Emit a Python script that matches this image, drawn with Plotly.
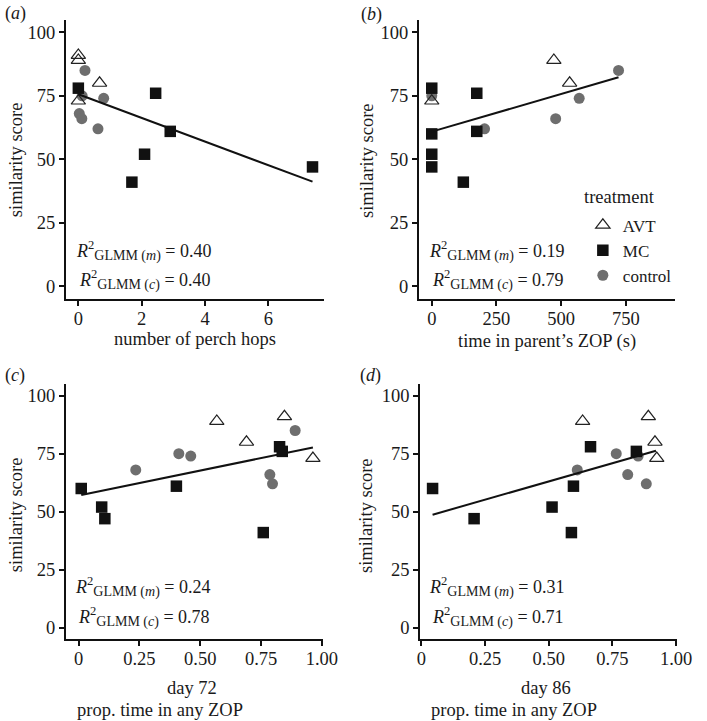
import plotly.graph_objects as go

# ---------------- data ----------------
avt_score = [91, 89, 80, 73]
hops_avt = [0, 0, 0.67, 0]
zop_avt = [None, 472, 533, 0]
day72_avt = [0.846, 0.568, 0.69, 0.963]
day86_avt = [0.891, 0.633, 0.917, 0.924]

mc_score = [78, 76, 61, 52, 47, 41, 60]
hops_mc = [0, 2.44, 2.9, 2.09, 7.39, 1.69, None]
zop_mc = [0, 174, 174, 0, 0, 122, 0]
day72_mc = [0.826, 0.837, 0.402, 0.095, 0.108, 0.759, 0.011]
day86_mc = [0.664, 0.844, 0.597, 0.513, 0.207, 0.589, 0.044]

ctrl_score = [85, 75, 74, 68, 66, 62]
hops_ctrl = [0.21, 0.12, 0.8, 0.03, 0.11, 0.62]
zop_ctrl = [722, 0, 570, None, 479, 204]
day72_ctrl = [0.89, 0.412, 0.461, 0.235, 0.786, 0.797]
day86_ctrl = [None, 0.765, 0.851, 0.612, 0.81, 0.883]

fit_hops_x = [0, 7.39]
fit_hops_y = [75.6, 41.2]
fit_zop_x = [0, 722]
fit_zop_y = [60.9, 82.3]
fit_d72_x = [0.011, 0.963]
fit_d72_y = [57.2, 77.7]
fit_d86_x = [0.044, 0.921]
fit_d86_y = [48.7, 76.3]

r2_m = ["0.40", "0.19", "0.24", "0.31"]
r2_c = ["0.40", "0.79", "0.78", "0.71"]

panel_labels = ["a", "b", "c", "d"]
y_ticks = [0, 25, 50, 75, 100]
x_ticks_hops = [0, 2, 4, 6]
x_ticks_zop = [0, 250, 500, 750]
x_ticks_prop = [0, 0.25, 0.5, 0.75, 1.0]
x_ticktext_prop = ["0", "0.25", "0.50", "0.75", "1.00"]

# ---------------- layout helpers ----------------
W, H = 707, 721
FONT = "Liberation Serif"
TXT = "#1a1a1a"


def fx(p):
    return p / W


def fy(p):
    return 1 - p / H


fig = go.Figure()

panels = [
    dict(xa="x", ya="y", avt=hops_avt, mc=hops_mc, ct=hops_ctrl, fx_=fit_hops_x, fy_=fit_hops_y),
    dict(xa="x2", ya="y2", avt=zop_avt, mc=zop_mc, ct=zop_ctrl, fx_=fit_zop_x, fy_=fit_zop_y),
    dict(xa="x3", ya="y3", avt=day72_avt, mc=day72_mc, ct=day72_ctrl, fx_=fit_d72_x, fy_=fit_d72_y),
    dict(xa="x4", ya="y4", avt=day86_avt, mc=day86_mc, ct=day86_ctrl, fx_=fit_d86_x, fy_=fit_d86_y),
]

for i, p in enumerate(panels):
    show = (i == 1)
    fig.add_trace(go.Scatter(
        x=p["ct"], y=ctrl_score, mode="markers", name="control",
        marker=dict(symbol="circle", size=11, color="#6e6e6e"),
        xaxis=p["xa"], yaxis=p["ya"], showlegend=show, legendrank=3,
        cliponaxis=False))
    fig.add_trace(go.Scatter(
        x=p["mc"], y=mc_score, mode="markers", name="MC",
        marker=dict(symbol="square", size=11.5, color="#111111"),
        xaxis=p["xa"], yaxis=p["ya"], showlegend=show, legendrank=2,
        cliponaxis=False))
    fig.add_trace(go.Scatter(
        x=p["avt"], y=avt_score, mode="markers", name="AVT",
        marker=dict(symbol="triangle-up-open", size=12.5, color="#222222",
                    line=dict(width=1.2)),
        xaxis=p["xa"], yaxis=p["ya"], showlegend=show, legendrank=1,
        cliponaxis=False))
    fig.add_trace(go.Scatter(
        x=p["fx_"], y=p["fy_"], mode="lines",
        line=dict(color="#111111", width=2),
        xaxis=p["xa"], yaxis=p["ya"], showlegend=False, hoverinfo="skip"))

axis_common = dict(
    showline=True, linecolor="#111111", linewidth=1.6,
    ticks="outside", ticklen=5, tickwidth=1.5, tickcolor="#111111",
    showgrid=False, zeroline=False,
    tickfont=dict(family=FONT, size=18.5, color=TXT),
    fixedrange=True,
)

dom_ab = [fy(299), fy(19.6)]
dom_cd = [fy(639.3), fy(384.1)]

fig.update_layout(
    width=W, height=H,
    margin=dict(l=0, r=0, t=0, b=0),
    paper_bgcolor="white", plot_bgcolor="white",
    font=dict(family=FONT, size=18, color=TXT),
    xaxis=dict(domain=[fx(64.3), fx(329.3)], range=[-0.4, 7.75],
               tickvals=x_ticks_hops, anchor="y", ticklabelstandoff=-3, **axis_common),
    yaxis=dict(domain=dom_ab, range=[-5, 105], tickvals=y_ticks, anchor="x", **axis_common),
    xaxis2=dict(domain=[fx(426.7), fx(690)], range=[-50, 942],
                tickvals=x_ticks_zop, anchor="y2", ticklabelstandoff=-3, **axis_common),
    yaxis2=dict(domain=dom_ab, range=[-5, 105], tickvals=y_ticks, anchor="x2", **axis_common),
    xaxis3=dict(domain=[fx(64.3), fx(328.5)], range=[-0.053, 1.005],
                tickvals=x_ticks_prop, ticktext=x_ticktext_prop, anchor="y3",
                ticklabelstandoff=-3, **axis_common),
    yaxis3=dict(domain=dom_cd, range=[-5, 105], tickvals=y_ticks, anchor="x3", **axis_common),
    xaxis4=dict(domain=[fx(428), fx(692)], range=[-0.005, 1.005],
                tickvals=x_ticks_prop, ticktext=x_ticktext_prop, anchor="y4",
                ticklabelstandoff=-3, **axis_common),
    yaxis4=dict(domain=dom_cd, range=[-5, 105], tickvals=y_ticks, anchor="x4", **axis_common),
    legend=dict(
        font=dict(family=FONT, size=17, color=TXT),
        x=fx(595), y=fy(207.5), xanchor="left", yanchor="top",
        bgcolor="rgba(0,0,0,0)", borderwidth=0,
        tracegroupgap=0, itemsizing="trace",
    ),
)

ann = []


def add_text(text, x, y, xanchor="center", yanchor="middle", size=18.5, angle=0):
    ann.append(dict(text=text, x=fx(x), y=fy(y), xref="paper", yref="paper",
                    xanchor=xanchor, yanchor=yanchor, showarrow=False,
                    textangle=angle, font=dict(family=FONT, size=size, color=TXT)))


# panel labels
label_pos = [(0, 14), (365, 15), (0, 375), (364, 375)]
for lab, (lx, ly) in zip(panel_labels, label_pos):
    add_text("(<i>%s</i>)" % lab, lx, ly, xanchor="left", size=18)

# legend title
add_text("treatment", 594, 197, xanchor="left", size=18.5)

# y-axis titles
for (tx, ty) in [(13.5, 160), (373.5, 160), (13.5, 515), (372.5, 516)]:
    add_text("similarity score", tx, ty, angle=-90)

# x-axis titles
add_text("number of perch hops", 196.8, 339)
add_text("time in parent\u2019s ZOP (s)", 558, 341)
add_text("day 72", 194, 688)
add_text("prop. time in any ZOP", 161.5, 710)
add_text("day 86", 557.3, 688)
add_text("prop. time in any ZOP", 524, 710)

# R^2 annotations
SUB = '<sub><span style="font-size:14px">GLMM (<i>%s</i>)</span></sub>'
r2_pos = [(215, 250.5, 279.8), (578, 250.5, 279.8), (214.5, 587, 616.5), (578, 587, 616.5)]
for (rx, y1, y2), m, c in zip(r2_pos, r2_m, r2_c):
    add_text("<i>R</i><sup>2</sup>" + (SUB % "m") + " = " + m, rx, y1,
             xanchor="right", size=18)
    add_text("<i>R</i><sup>2</sup>" + (SUB % "c") + " = " + c, rx, y2,
             xanchor="right", size=18)

fig.update_layout(annotations=ann)

fig.write_html(
    "out.html",
    config={"displayModeBar": False},
    post_script="document.body.style.margin='0';document.body.style.padding='0';"
                "document.body.style.overflow='hidden';",
)
